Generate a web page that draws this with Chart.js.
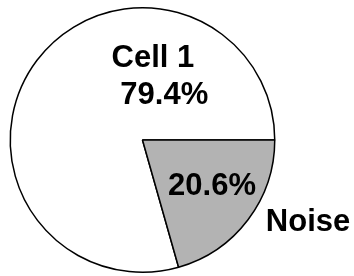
<!DOCTYPE html>
<html>
<head>
<meta charset="utf-8">
<script src="https://cdn.jsdelivr.net/npm/chart.js@4/dist/chart.umd.min.js"></script>
<style>
  html, body { margin: 0; padding: 0; background: #ffffff; }
  #chart { display: block; }
</style>
</head>
<body>
<canvas id="chart" width="354" height="276"></canvas>
<script>
// pie data
const categories = ['Cell 1', 'Noise'];
const values = [79.4, 20.6];
const sliceColors = ['#ffffff', '#b3b3b3'];

// label placement relative to the pie centre, in units of radius
const labelSpots = [
    [
        { text: categories[0], dx: 0.079, dy: -0.62 },
        { text: values[0].toFixed(1) + '%', dx: 0.165, dy: -0.34 }
    ],
    [
        { text: values[1].toFixed(1) + '%', dx: 0.526, dy: 0.353 },
        { text: categories[1], dx: 1.252, dy: 0.624 }
    ]
];

const pieLabels = {
    id: 'pieLabels',
    afterDatasetsDraw(chart) {
        const ctx = chart.ctx;
        const arcs = chart.getDatasetMeta(0).data;
        ctx.save();
        ctx.font = 'bold 31px "Liberation Sans", Arial, sans-serif';
        ctx.fillStyle = '#000000';
        ctx.textAlign = 'center';
        ctx.textBaseline = 'middle';
        arcs.forEach((arc, i) => {
            const r = arc.outerRadius;
            labelSpots[i].forEach(s => {
                ctx.fillText(s.text, arc.x + s.dx * r, arc.y + s.dy * r);
            });
        });
        ctx.restore();
    }
};

new Chart(document.getElementById('chart'), {
    type: 'pie',
    data: {
        labels: categories,
        datasets: [{
            data: values,
            backgroundColor: sliceColors,
            borderColor: '#000000',
            borderWidth: 1.5
        }]
    },
    options: {
        responsive: false,
        animation: false,
        // first slice starts where the second one ends, second starts at 3 o'clock
        rotation: 90 + values[1] * 3.6,
        layout: { padding: { left: 9, top: 7, right: 78, bottom: 3 } },
        plugins: {
            legend: { display: false },
            tooltip: { enabled: false }
        }
    },
    plugins: [pieLabels]
});
</script>
</body>
</html>
